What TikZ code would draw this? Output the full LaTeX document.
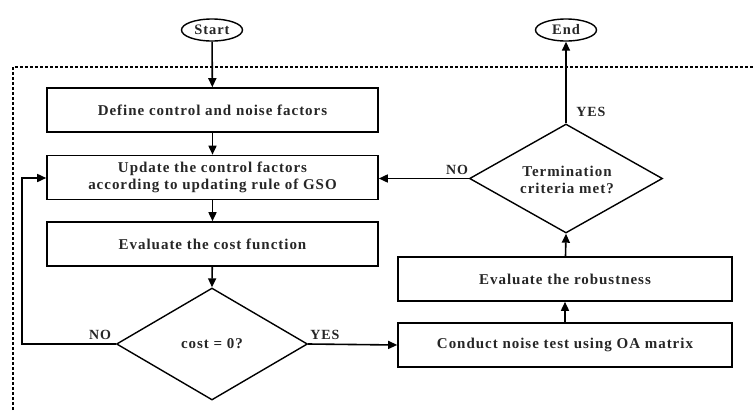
\documentclass[tikz,border=0pt]{standalone}
\usepackage{fontspec}
\setmainfont{Liberation Serif}[LetterSpace=6.5]
\usetikzlibrary{shapes.geometric,arrows.meta}
\begin{document}
\begin{tikzpicture}[x=1pt,y=-1pt,
  every node/.style={font=\bfseries\fontsize{15}{17.5}\selectfont, text=black!85},
  box/.style={draw, line width=1.6pt, minimum width=331pt, minimum height=44pt, inner sep=0pt, align=center},
  rbox/.style={draw, line width=1.6pt, minimum width=334pt, minimum height=44pt, inner sep=0pt, align=center},
  term/.style={draw, ellipse, line width=1.4pt, minimum width=61pt, minimum height=22pt, inner sep=0pt, font=\bfseries\fontsize{14.5}{16}\selectfont},
  dec/.style={draw, diamond, line width=1.4pt, inner sep=0pt, align=center},
  lbl/.style={font=\bfseries\fontsize{14}{16}\selectfont},
  conn/.style={line width=1.6pt, -{Triangle[length=9pt,width=8pt]}},
  plain/.style={line width=1.6pt}
]
\useasboundingbox (0,0) rectangle (753,410);
% dashed frame
\draw[line width=1.3pt, dash pattern=on 3pt off 2pt] (13,410) -- (13,67) -- (753,67);

\node[term] (start) at (212,30) {Start};
\node[term] (end) at (566,30) {End};
\node[box] (def) at (212.5,110) {Define control and noise factors};
\node[box] (upd) at (212.5,177.5) {Update the control factors\\according to updating rule of GSO};
\node[box] (eval) at (212.5,244) {Evaluate the cost function};
\node[dec, minimum width=191pt, minimum height=112pt] (cost) at (212,344) {};
\node at (212,344) {cost = 0?};
\node[rbox] (cond) at (565,345) {Conduct noise test using OA matrix};
\node[rbox] (rob) at (565,279) {Evaluate the robustness};
\node[dec, minimum width=193pt, minimum height=109pt] (term) at (566,178.5) {};
\node[align=center] at (567,180) {Termination\\criteria met?};

\coordinate (c1) at (22,344);
\coordinate (c2) at (22,178);

\draw[conn] (start) -- (def);
\draw[conn] (def) -- (upd);
\draw[conn] (upd) -- (eval);
\draw[conn] (eval) -- (cost.north);
\draw[conn] (cost.west) -- (c1) -- (c2) -- (upd.west |- c2);
\draw[conn] (cost.east) -- (cond.west);
\draw[conn] (cond) -- (rob);
\draw[conn] (rob) -- (term.south);
\draw[conn] (term.west) -- (upd.east |- term.west);
\draw[conn] (term.north) -- (end);

\node[lbl] at (100,335) {NO};
\node[lbl] at (325,335) {YES};
\node[lbl] at (457,170) {NO};
\node[lbl] at (591,112) {YES};
\end{tikzpicture}
\end{document}
